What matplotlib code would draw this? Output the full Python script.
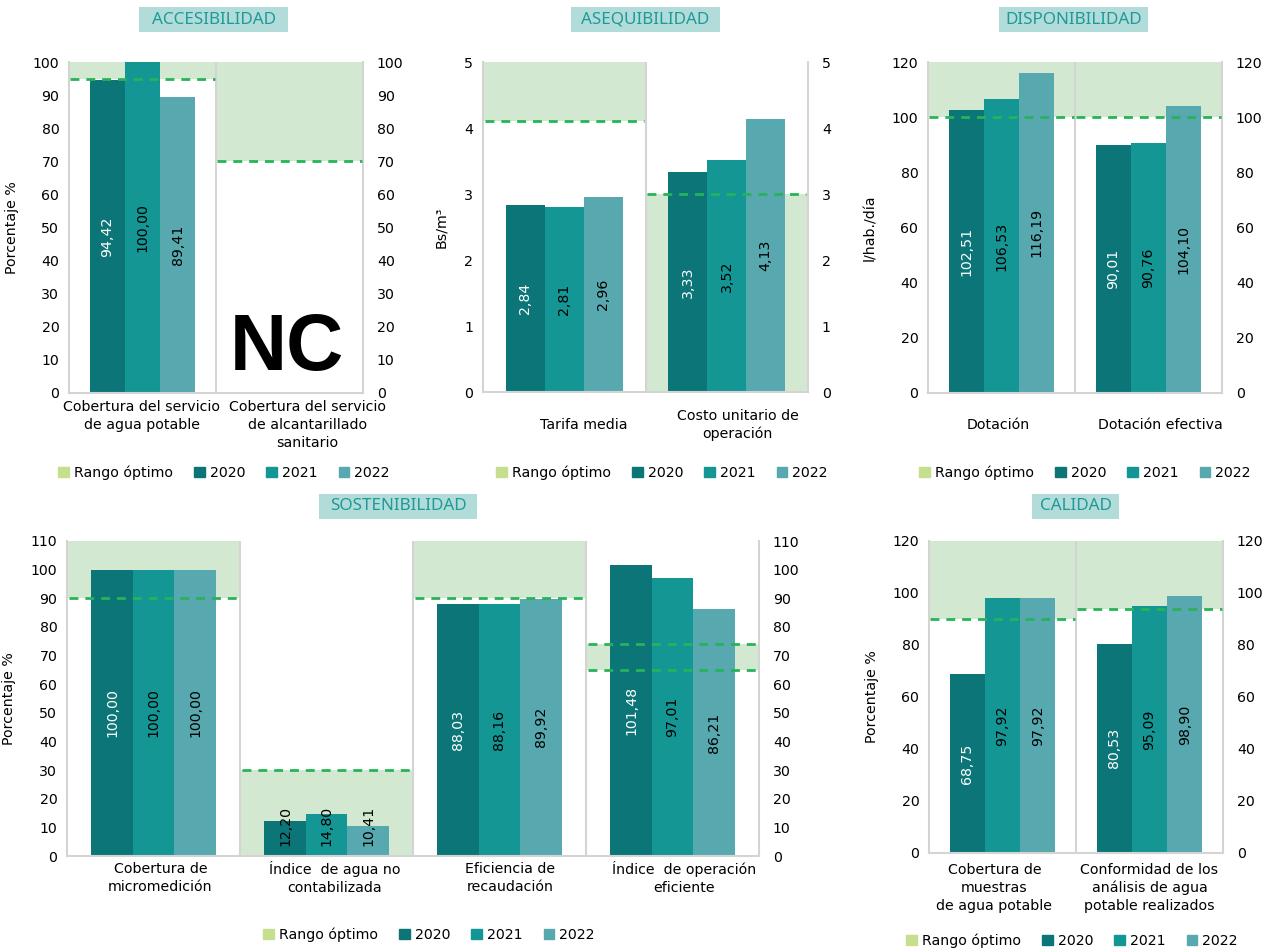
import matplotlib
matplotlib.use('Agg')
import matplotlib.pyplot as plt
import numpy as np
from matplotlib.patches import Patch, Rectangle
from matplotlib.transforms import blended_transform_factory, ScaledTranslation

# ---------------- DATA ----------------
years = ['2020', '2021', '2022']

acc_cats = ['Cobertura del servicio\nde agua potable',
            'Cobertura del servicio\nde alcantarillado\nsanitario']
acc_2020 = [94.42, np.nan]
acc_2021 = [100.00, np.nan]
acc_2022 = [89.41, np.nan]
acc_opt_low = [95, 70]
acc_opt_high = [100, 100]
acc_ref = [[95], [70]]

ase_cats = ['Tarifa media', 'Costo unitario de\noperación']
ase_2020 = [2.84, 3.33]
ase_2021 = [2.81, 3.52]
ase_2022 = [2.96, 4.13]
ase_opt_low = [4.1, 0]
ase_opt_high = [5, 3]
ase_ref = [[4.1], [3]]

dis_cats = ['Dotación', 'Dotación efectiva']
dis_2020 = [102.51, 90.01]
dis_2021 = [106.53, 90.76]
dis_2022 = [116.19, 104.10]
dis_opt_low = [100, 100]
dis_opt_high = [120, 120]
dis_ref = [[100], [100]]

sos_cats = ['Cobertura de\nmicromedición', 'Índice  de agua no\ncontabilizada',
            'Eficiencia de\nrecaudación', 'Índice  de operación\neficiente']
sos_2020 = [100.00, 12.20, 88.03, 101.48]
sos_2021 = [100.00, 14.80, 88.16, 97.01]
sos_2022 = [100.00, 10.41, 89.92, 86.21]
sos_opt_low = [90, 0, 90, 65]
sos_opt_high = [110, 30, 110, 74]
sos_ref = [[90], [30], [90], [65, 74]]

cal_cats = ['Cobertura de\nmuestras\nde agua potable',
            'Conformidad de los\nanálisis de agua\npotable realizados']
cal_2020 = [68.75, 80.53]
cal_2021 = [97.92, 95.09]
cal_2022 = [97.92, 98.90]
cal_opt_low = [90, 94]
cal_opt_high = [120, 120]
cal_ref = [[90], [94]]

# ---------------- STYLE ----------------
W, H = 1269, 950
plt.rcParams['font.family'] = ['DejaVu Sans']
C_YEARS = ['#0b7577', '#139694', '#57a9af']
SHADE = '#d3e8d0'
DASH = '#27b35a'
RANGO = '#c5df8e'
AXC = '#d4d4d4'
TITLE_BG = '#b2dcda'
TITLE_FG = '#1f9a98'
FS = 10.2

fig = plt.figure(figsize=(W / 100, H / 100), dpi=100)


def fmt(v):
    return f"{v:.2f}".replace('.', ',')


def panel(rect, cats, series, lows, highs, refs, ymax, ystep, ylabel, ylabel_x,
          lab_y, lab_va, lab_dx, leg_c, title, tbox):
    x0, x1, yt, yb = rect
    ax = fig.add_axes([x0 / W, 1 - yb / H, (x1 - x0) / W, (yb - yt) / H])
    n = len(cats)
    idx = np.arange(n)
    ax.set_xlim(-0.5, n - 0.5)
    ax.set_ylim(0, ymax)
    # optimal range
    for i in range(n):
        ax.fill_between([i - 0.5, i + 0.5], lows[i], highs[i], color=SHADE,
                        lw=0, zorder=0.5)
        for r in refs[i]:
            ax.hlines(r, i - 0.5 + 0.01, i + 0.5 - 0.01, colors=DASH,
                      linestyles=(0, (3.2, 2.5)), lw=2, zorder=4)
    # dividers
    for i in range(n - 1):
        ax.axvline(i + 0.5, color=AXC, lw=1.5, zorder=1)
    w = 0.24
    for k, (vals, c) in enumerate(zip(series, C_YEARS)):
        xs = idx + (k - 1) * w
        ax.bar(xs, vals, width=w, color=c, zorder=2, label=years[k])
        for x, v in zip(xs, vals):
            if np.isnan(v):
                continue
            if v < ymax * 0.2:
                ax.text(x, ymax * 0.033, fmt(v), rotation=90, ha='center',
                        va='bottom', fontsize=FS, color='black', zorder=5)
            else:
                ax.text(x, v / 2, fmt(v), rotation=90, ha='center', va='center',
                        fontsize=FS, color='white' if k == 0 else 'black', zorder=5)
    # spines
    for s in ['left', 'right', 'bottom']:
        ax.spines[s].set_color(AXC)
        ax.spines[s].set_linewidth(1.5)
    ax.spines['top'].set_visible(False)
    ticks = np.arange(0, ymax + ystep / 2, ystep)
    ax.set_yticks(ticks)
    ax.set_yticklabels([f"{t:g}" for t in ticks], fontsize=FS)
    ax.tick_params(axis='y', length=0, pad=7)
    ax.set_xticks([])
    ax2 = ax.twinx()
    ax2.set_ylim(0, ymax)
    ax2.set_yticks(ticks)
    ax2.set_yticklabels([f"{t:g}" for t in ticks], fontsize=FS)
    ax2.tick_params(axis='y', length=0, pad=10)
    for s in ax2.spines.values():
        s.set_visible(False)
    # y label
    ax.set_ylabel(ylabel, fontsize=FS)
    ax.yaxis.set_label_coords((ylabel_x - x0) / (x1 - x0), 0.5)
    # category labels
    for i, c in enumerate(cats):
        tr = blended_transform_factory(ax.transData, fig.transFigure) + \
            ScaledTranslation(lab_dx[i] / 100, 0, fig.dpi_scale_trans)
        ax.text(i, 1 - lab_y / H, c, transform=tr, ha='center', va=lab_va,
                fontsize=FS, linespacing=1.35, multialignment='center')
    # legend
    handles = [Patch(color=RANGO, label='Rango óptimo')] + \
        [Patch(color=c, label=y) for c, y in zip(C_YEARS, years)]
    fig.legend(handles=handles, ncol=4, loc='center', frameon=False,
               bbox_to_anchor=(leg_c[0] / W, 1 - leg_c[1] / H),
               fontsize=FS, handlelength=0.75, handleheight=0.75,
               handletextpad=0.35, columnspacing=1.5, borderpad=0)
    # title box
    bx0, bx1, by0, by1 = tbox
    fig.patches.append(Rectangle((bx0 / W, 1 - by1 / H), (bx1 - bx0) / W,
                                 (by1 - by0) / H, transform=fig.transFigure,
                                 facecolor=TITLE_BG, edgecolor='none'))
    fig.text((bx0 + bx1) / 2 / W, 1 - (by0 + by1) / 2 / H, title, ha='center',
             va='center', fontsize=12.3, color=TITLE_FG, family='Noto Sans')
    return ax


panel((69, 363, 62, 393), acc_cats, [acc_2020, acc_2021, acc_2022],
      acc_opt_low, acc_opt_high, acc_ref, 100, 10, 'Porcentaje %', 19,
      400, 'top', [-1, 18], (224, 473), 'ACCESIBILIDAD', (139, 288, 7, 32))
fig.text(287 / W, 1 - 370 / H, 'NC', ha='center', va='baseline', fontsize=57,
         family='Liberation Sans', weight='bold', color='black')

panel((483, 808, 62, 392), ase_cats, [ase_2020, ase_2021, ase_2022],
      ase_opt_low, ase_opt_high, ase_ref, 5, 1, 'Bs/m³', 448,
      425, 'center', [20, 11], (662, 473), 'ASEQUIBILIDAD', (571, 720, 7, 32))

panel((928, 1222, 62, 393), dis_cats, [dis_2020, dis_2021, dis_2022],
      dis_opt_low, dis_opt_high, dis_ref, 120, 20, 'l/hab./día', 877,
      425, 'center', [-3, 12], (1085, 473), 'DISPONIBILIDAD', (999, 1148, 7, 32))

panel((67, 759, 541, 856), sos_cats, [sos_2020, sos_2021, sos_2022],
      sos_opt_low, sos_opt_high, sos_ref, 110, 10, 'Porcentaje %', 16,
      878, 'center', [7, 8, 11, 12], (429, 935), 'SOSTENIBILIDAD', (319, 477, 494, 519))

panel((929, 1223, 541, 853), cal_cats, [cal_2020, cal_2021, cal_2022],
      cal_opt_low, cal_opt_high, cal_ref, 120, 20, 'Porcentaje %', 879,
      888, 'center', [-8, 0], (1072, 941), 'CALIDAD', (1032, 1119, 494, 519))

fig.savefig('out.png', dpi=100, facecolor='white')
